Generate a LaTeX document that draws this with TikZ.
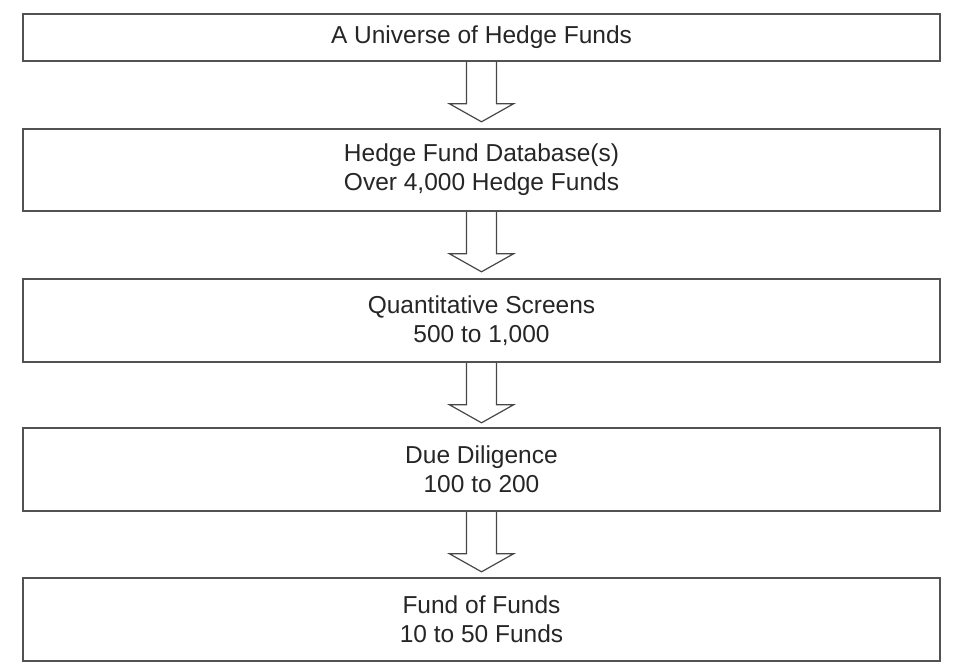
\documentclass[tikz,border=0pt]{standalone}
\usepackage{fontspec}
\setmainfont{Liberation Sans}
\usetikzlibrary{calc}
\begin{document}
\begin{tikzpicture}[x=1pt,y=1pt,
  stagebox/.style={draw=black!68, line width=1.6pt, fill=white,
    minimum width=917pt, inner sep=0pt, align=center,
    font=\fontsize{24.5}{29}\selectfont, text=black!85},
  flowarrow/.style={draw=black!72, line width=1.2pt, line join=miter}]
\useasboundingbox (0,0) rectangle (957,-667);

% funnel stages, top to bottom
\node[stagebox, minimum height=47pt] (b1) at (481.5,-37.5) {A Universe of Hedge Funds};
\node[stagebox, minimum height=82pt] (b2) at (481.5,-170) {Hedge Fund Database(s)\\Over 4,000 Hedge Funds};
\node[stagebox, minimum height=83pt] (b3) at (481.5,-320.5) {Quantitative Screens\\500 to 1,000};
\node[stagebox, minimum height=83pt] (b4) at (481.5,-469.5) {Due Diligence\\100 to 200};
\node[stagebox, minimum height=83pt] (b5) at (481.5,-619.5) {Fund of Funds\\10 to 50 Funds};

% hollow block arrows hanging from each stage
\foreach \a/\b in {b1/b2,b2/b3,b3/b4,b4/b5}{
  \draw[flowarrow] ([xshift=-15pt]\a.south) -- ++(0,-42) -- ++(-17,0)
    -- ($(\a.south)+(0,-60)$) -- ++(32,18) -- ++(-17,0) -- ++(0,42);
}
\end{tikzpicture}
\end{document}
